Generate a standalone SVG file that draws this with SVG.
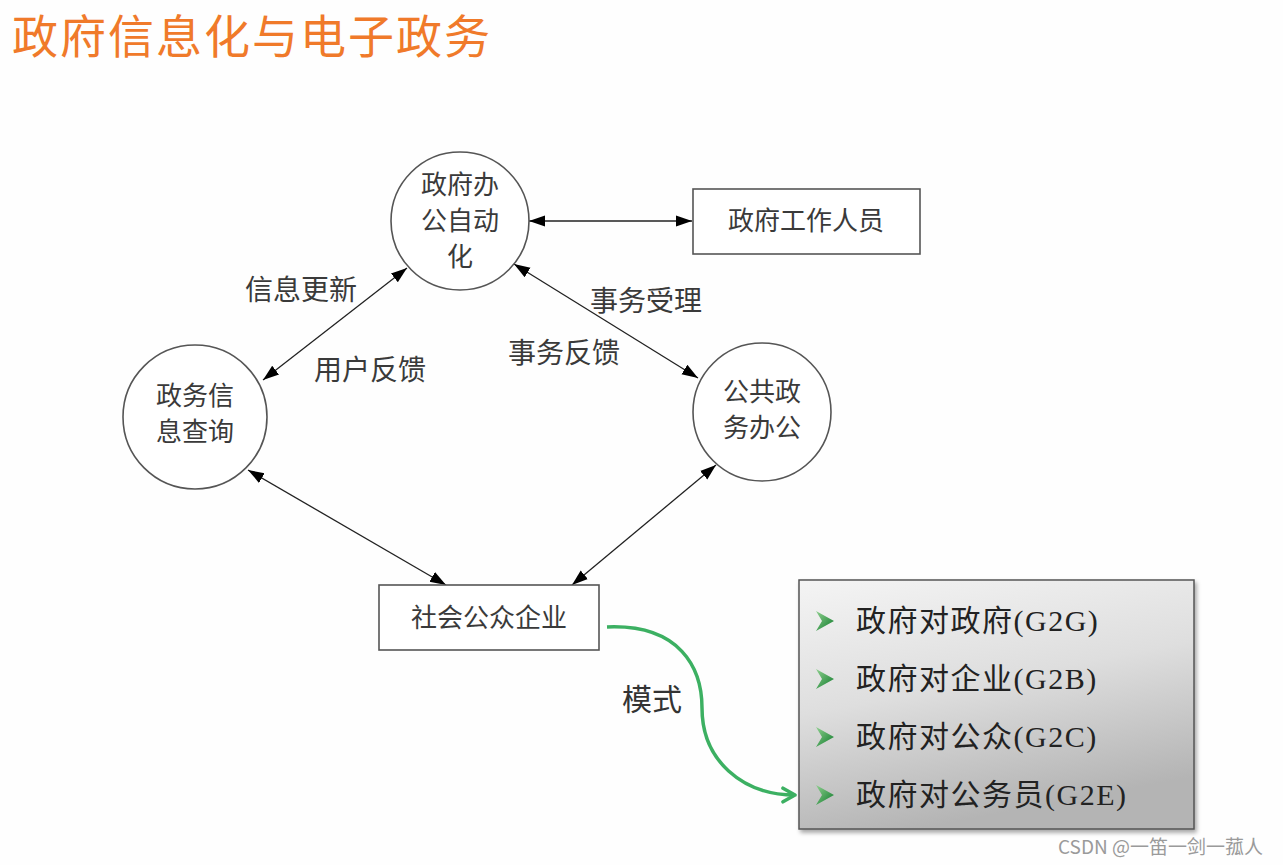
<svg xmlns="http://www.w3.org/2000/svg" width="1283" height="865" viewBox="0 0 1283 865">
<style>
.node{fill:#fff;stroke:#555;stroke-width:1.6}
.t{font-family:"Noto Sans CJK SC",sans-serif;fill:#3a3a3a;text-anchor:middle}
.nt{font-size:26px}
.lb{font-size:28px;fill:#3a3a3a;font-family:"Noto Sans CJK SC",sans-serif}
.conn{stroke:#222;stroke-width:1.3;fill:none;marker-start:url(#ah);marker-end:url(#ah)}
.item{font-family:"Liberation Serif","Noto Sans CJK SC",serif;font-size:30px;fill:#222;letter-spacing:1.5px}
</style>
<defs>
<marker id="ah" viewBox="0 0 10 10" refX="10" refY="5" markerWidth="16" markerHeight="16" markerUnits="userSpaceOnUse" orient="auto-start-reverse">
<path d="M0,1.5 L10,5 L0,8.5 z" fill="#000"/>
</marker>
<marker id="gh" viewBox="0 0 12 12" refX="10" refY="6" markerWidth="18" markerHeight="18" markerUnits="userSpaceOnUse" orient="auto">
<path d="M2,1.5 L10,6 L2,10.5" fill="none" stroke="#3cb062" stroke-width="2.4" stroke-linejoin="round" stroke-linecap="round"/>
</marker>
<linearGradient id="boxg" x1="0" y1="0" x2="0.3" y2="1">
<stop offset="0" stop-color="#f4f4f4"/>
<stop offset="0.5" stop-color="#dedede"/>
<stop offset="1" stop-color="#b4b4b4"/>
</linearGradient>
<linearGradient id="bul" x1="0" y1="0" x2="1" y2="1">
<stop offset="0" stop-color="#8fd08f"/>
<stop offset="1" stop-color="#0e7a2a"/>
</linearGradient>
<filter id="sh" x="-5%" y="-5%" width="112%" height="115%">
<feDropShadow dx="2" dy="3" stdDeviation="2" flood-color="#000" flood-opacity="0.35"/>
</filter>
<polygon id="bullet" points="0,-10 18,0 0,10 6,0" fill="url(#bul)"/>
</defs>
<rect width="1283" height="865" fill="#fefefe"/>
<text x="12" y="53" font-family="Noto Sans CJK SC,sans-serif" font-size="46" letter-spacing="2" fill="#f07a2a">政府信息化与电子政务</text>

<g id="connectors">
<line class="conn" x1="529" y1="221" x2="692" y2="221"/>
<line class="conn" x1="407" y1="268" x2="263" y2="380"/>
<line class="conn" x1="514" y1="264" x2="698" y2="378"/>
<line class="conn" x1="248" y1="470" x2="446" y2="585"/>
<line class="conn" x1="716" y1="465" x2="572" y2="585"/>
<path d="M607,627 C680,624 702,668 702,708 C702,760 742,795 795,795" fill="none" stroke="#3cb062" stroke-width="3.5" marker-end="url(#gh)"/>
</g>

<g id="labels">
<text class="lb" x="245" y="300">信息更新</text>
<text class="lb" x="314" y="380">用户反馈</text>
<text class="lb" x="590" y="311">事务受理</text>
<text class="lb" x="508" y="363">事务反馈</text>
<text x="622" y="710" font-family="Noto Sans CJK SC,sans-serif" font-size="30" fill="#333">模式</text>
</g>

<g id="n-oa">
<circle class="node" cx="460" cy="221" r="69"/>
<text class="t nt" x="460" y="194">政府办</text>
<text class="t nt" x="460" y="230">公自动</text>
<text class="t nt" x="460" y="266">化</text>
</g>
<g id="n-staff">
<rect class="node" x="693" y="189" width="227" height="65"/>
<text class="t nt" x="806" y="230">政府工作人员</text>
</g>
<g id="n-query">
<circle class="node" cx="195" cy="417" r="72"/>
<text class="t nt" x="195" y="405">政务信</text>
<text class="t nt" x="195" y="441">息查询</text>
</g>
<g id="n-public">
<circle class="node" cx="762" cy="412" r="69"/>
<text class="t nt" x="762" y="401">公共政</text>
<text class="t nt" x="762" y="437">务办公</text>
</g>
<g id="n-society">
<rect class="node" x="379" y="585" width="220" height="65"/>
<text class="t nt" x="489" y="627">社会公众企业</text>
</g>

<g id="n-modes">
<rect x="799" y="580" width="395" height="249" fill="url(#boxg)" stroke="#555" stroke-width="1.5" filter="url(#sh)"/>
<use href="#bullet" x="816" y="621"/>
<use href="#bullet" x="816" y="679"/>
<use href="#bullet" x="816" y="737"/>
<use href="#bullet" x="816" y="795"/>
<text class="item" x="856" y="631">政府对政府(G2G)</text>
<text class="item" x="856" y="689">政府对企业(G2B)</text>
<text class="item" x="856" y="747">政府对公众(G2C)</text>
<text class="item" x="856" y="805">政府对公务员(G2E)</text>
</g>

<text x="1058" y="854" font-family="Noto Sans CJK SC,sans-serif" font-size="19" fill="#9a9a9a">CSDN @一笛一剑一菰人</text>
</svg>
